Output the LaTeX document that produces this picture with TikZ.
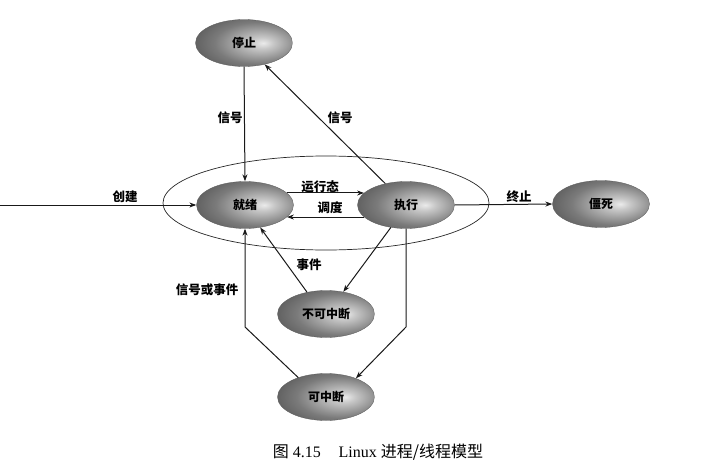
\documentclass[tikz,border=0pt]{standalone}
\usepackage{fontspec}
\setmainfont{Liberation Serif}
\newfontfamily\cjk{Noto Sans CJK SC}
\usetikzlibrary{shapes.geometric,arrows.meta}
\pgfdeclareradialshading{stateshade}{\pgfpoint{10bp}{0bp}}{color(0bp)=(black!8); color(6bp)=(black!22); color(22bp)=(black!52); color(42bp)=(black!74); color(70bp)=(black!80)}
\begin{document}
\begin{tikzpicture}[x=1pt,y=-1pt,
 state/.style={ellipse, minimum width=97pt, minimum height=47pt, inner sep=0pt, shading=stateshade, draw=black!65, line width=0.3pt, font=\cjk\bfseries\fontsize{12}{12}\selectfont},
 arr/.style={draw=black!90, line width=1pt, -{Stealth[length=7pt,width=5pt]}},
 lbl/.style={font=\cjk\bfseries\fontsize{12.5}{13}\selectfont, inner sep=0pt}]
\useasboundingbox (0,0) rectangle (710,471);
\node[ellipse, draw=black!85, line width=0.7pt, minimum width=326pt, minimum height=94pt, inner sep=0pt] (outer) at (326,203) {};
\node[state] (stop) at (244,43) {停止};
\node[state] (ready) at (245,205) {就绪};
\node[state] (run) at (406,205) {执行};
\node[state] (zombie) at (601,204) {僵死};
\node[state] (unint) at (326,314) {不可中断};
\node[state] (intr) at (326,397) {可中断};
\coordinate (src) at (0,205);
\coordinate (kl) at (245,327);
\coordinate (kr) at (406,327);
\draw[arr] (src) -- (ready.west);
\draw[arr] (ready.16) -- (run.164);
\draw[arr] (run.196) -- (ready.-16);
\draw[arr] (run.east) -- (zombie.west);
\draw[arr] (stop.south) -- (ready.north);
\draw[arr] (run.134) -- (stop.-46);
\draw[arr] (unint.131) -- (ready.-56);
\draw[arr] (run.-124) -- (unint.52);
\draw[arr] (intr.145) -- (kl) -- (ready.south);
\draw[arr] (run.south) -- (kr) -- (intr.32);
\node[lbl] (l1) at (125,197) {创建};
\node[lbl] (l2) at (320,187) {运行态};
\node[lbl] (l3) at (330,208) {调度};
\node[lbl] (l4) at (519,197) {终止};
\node[lbl] (l5) at (230,118) {信号};
\node[lbl] (l6) at (340,118) {信号};
\node[lbl] (l7) at (309,265) {事件};
\node[lbl] (l8) at (207,290) {信号或事件};
\node[font=\fontsize{16}{16}\selectfont, inner sep=0pt] (cap) at (378,452) {{\cjk 图} 4.15\hspace{1.1em}Linux {\cjk 进程/线程模型}};
\end{tikzpicture}
\end{document}
